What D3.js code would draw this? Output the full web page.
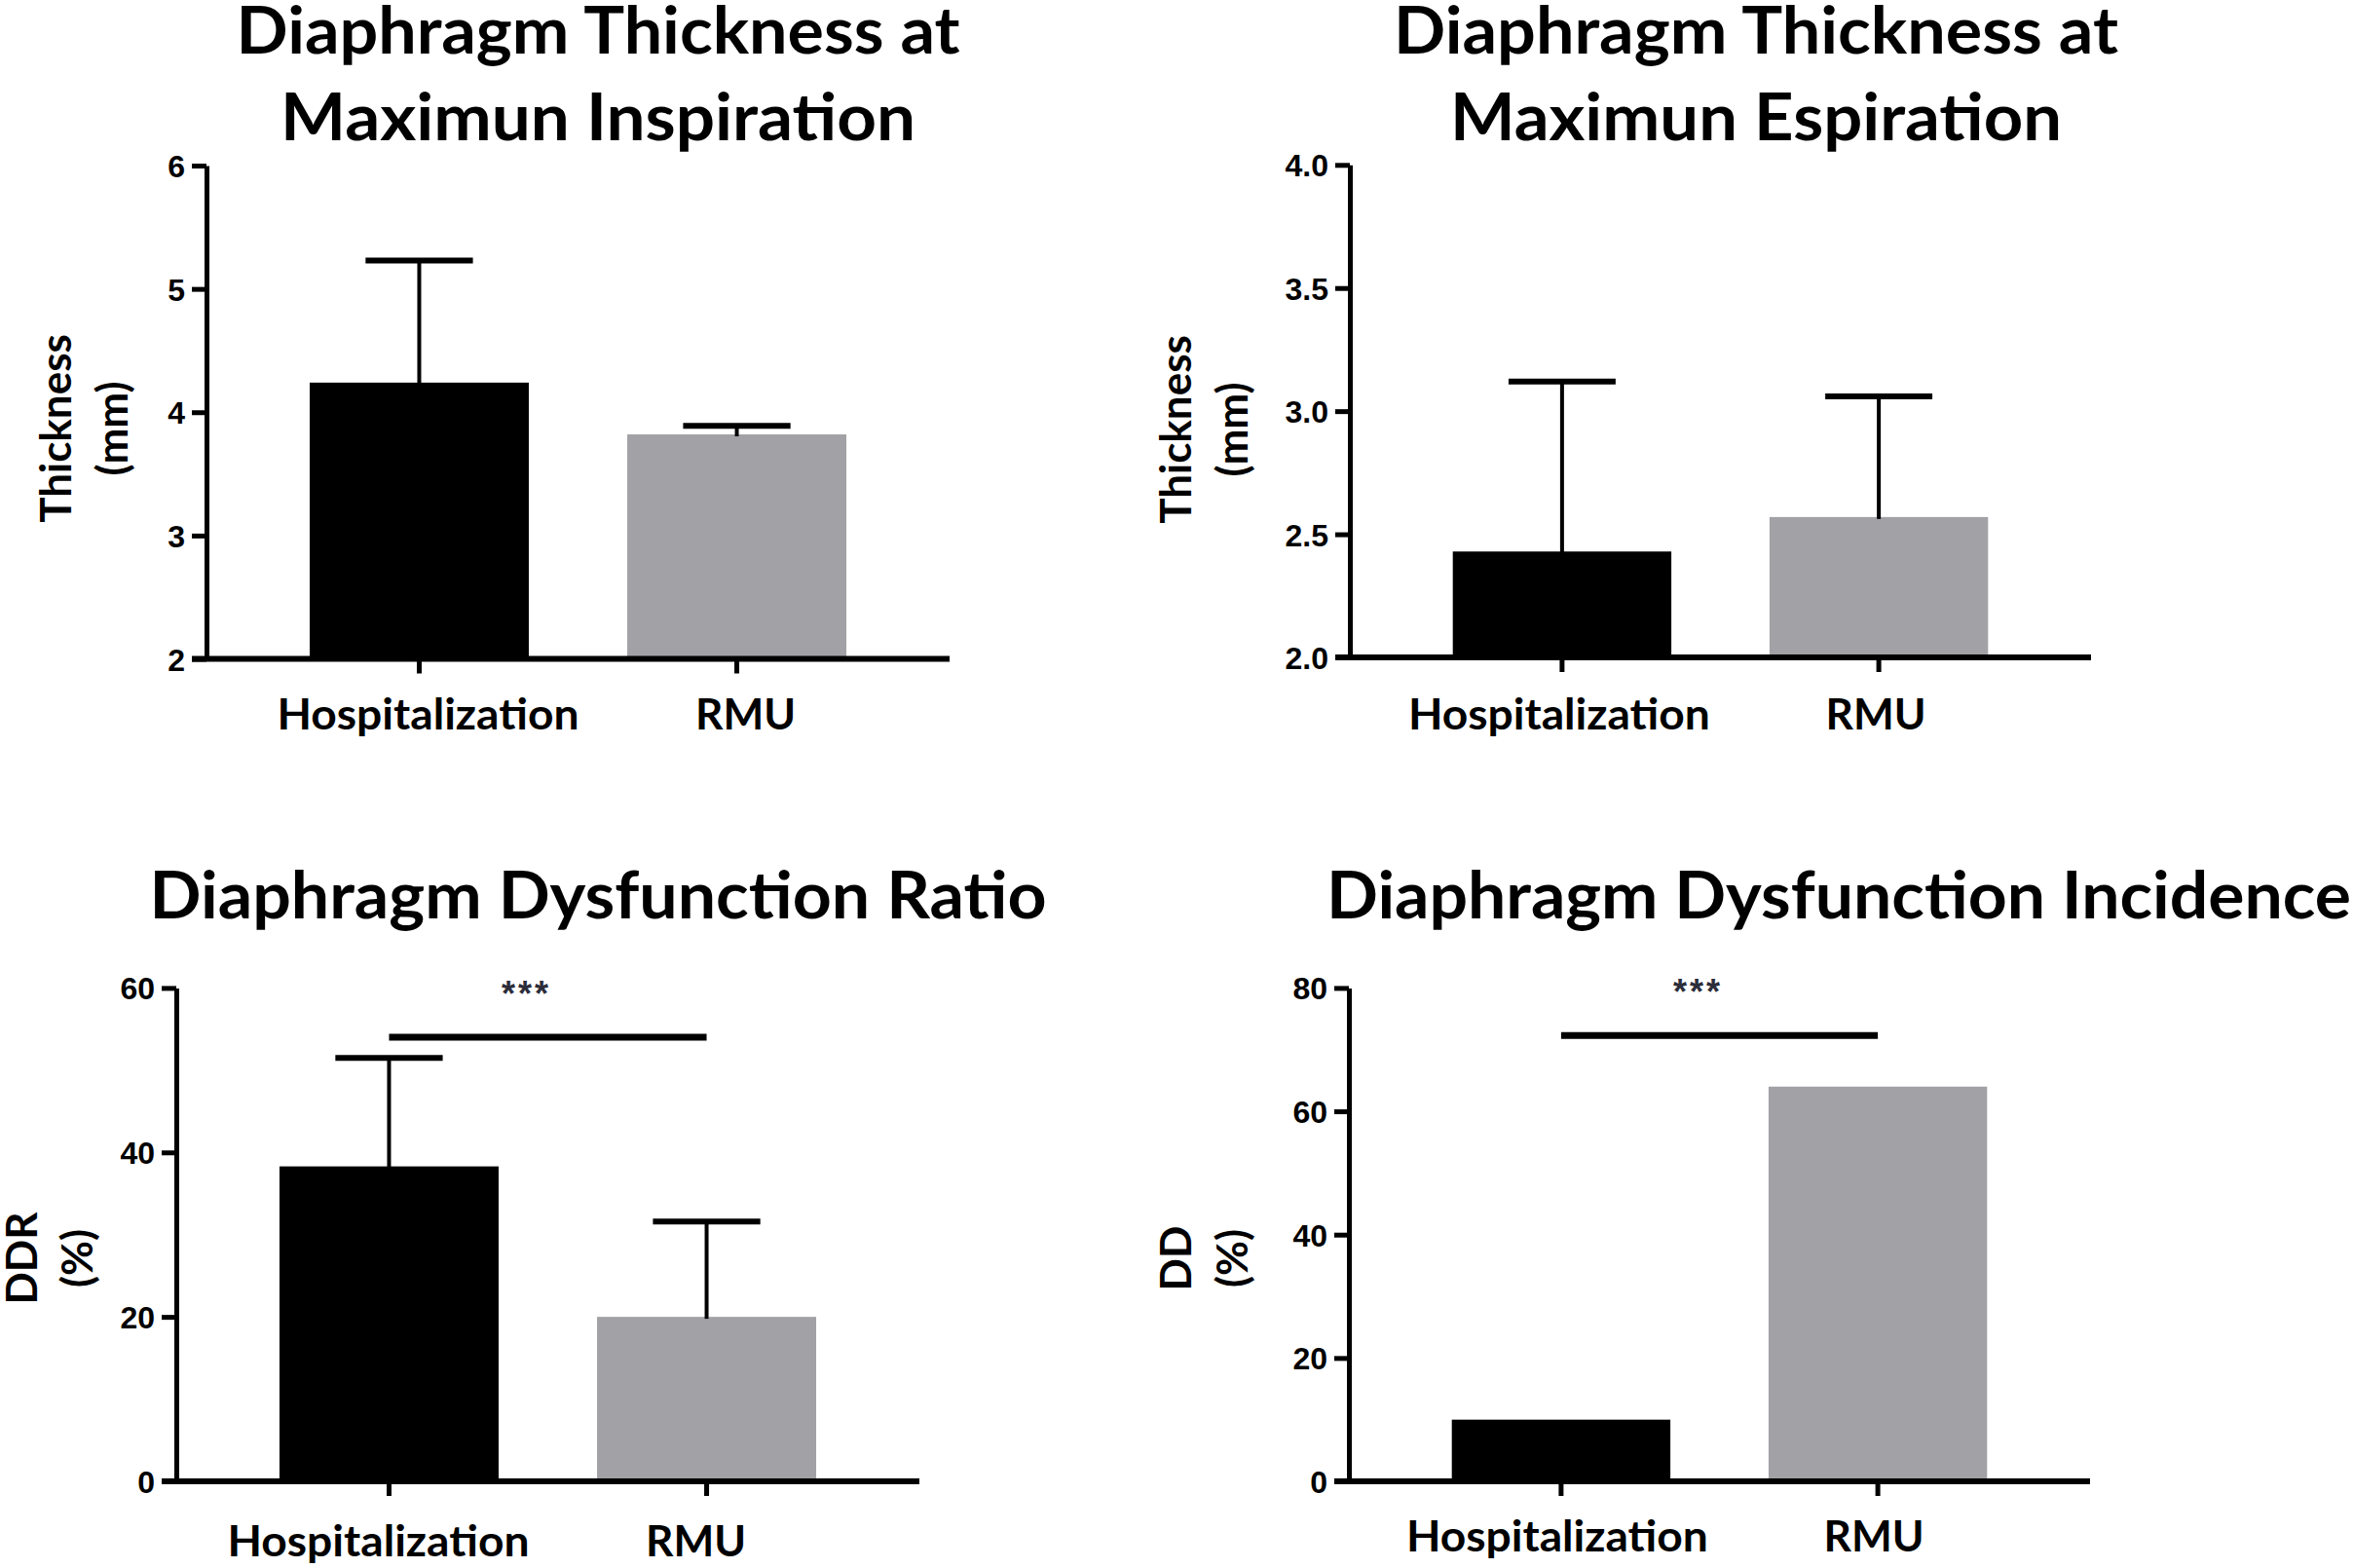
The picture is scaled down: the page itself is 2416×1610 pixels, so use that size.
<!DOCTYPE html>
<html>
<head>
<meta charset="utf-8">
<script src="https://cdn.jsdelivr.net/npm/d3@7"></script>
<style>
  body { margin: 0; background: #fff; }
  svg { display: block; }
  .title, .xlabel, .ylabel { font-family: Lato, "Open Sans", sans-serif; font-weight: 700; fill: #000; }
  .tick text { font-family: "Liberation Sans", Arial, sans-serif; font-weight: 700; }
</style>
</head>
<body>
<svg id="chart"></svg>
<script>
// groups and values
const groups = ["Hospitalization", "RMU"];
const barColors = ["#000000", "#a2a1a6"];

const inspMean = [4.24, 3.82];
const inspSD = [0.99, 0.07];
const inspTicks = [2, 3, 4, 5, 6];

const expMean = [2.43, 2.57];
const expSD = [0.69, 0.49];
const expTicks = [2.0, 2.5, 3.0, 3.5, 4.0];

const ddrMean = [38.3, 20.0];
const ddrSD = [13.2, 11.6];
const ddrTicks = [0, 20, 40, 60];
const ddrSig = 54;

const ddMean = [10, 64];
const ddTicks = [0, 20, 40, 60, 80];
const ddSig = 72.3;

const sigText = "***";

const W = 2416, H = 1610;
const svg = d3.select('#chart').attr('width', W).attr('height', H);

// layout of each panel
const xlabLen = [310, 103];
const panels = [
  {
    means: inspMean, sd: inspSD, ticks: inspTicks, domain: [2, 6], fmt: d3.format('d'),
    left: 212, top: 170, bottom: 676.5, width: 763,
    title: ["Diaphragm Thickness at", "Maximun Inspiration"], titleX: 614, titleY: [55, 144], titleLen: [743, 652],
    ylab: ["Thickness", "(mm)"], ylabX: [73, 131], ylabY: 440, labelShift: 9, xlabDy: 72
  },
  {
    means: expMean, sd: expSD, ticks: expTicks, domain: [2, 4], fmt: d3.format('.1f'),
    left: 1386, top: 169.3, bottom: 675, width: 761,
    title: ["Diaphragm Thickness at", "Maximun Espiration"], titleX: 1803, titleY: [55, 144], titleLen: [744, 628],
    ylab: ["Thickness", "(mm)"], ylabX: [1223, 1281], ylabY: 441, labelShift: -3, xlabDy: 74
  },
  {
    means: ddrMean, sd: ddrSD, ticks: ddrTicks, domain: [0, 60], fmt: d3.format('d'), sig: ddrSig,
    left: 181, top: 1014.4, bottom: 1521, width: 763,
    title: ["Diaphragm Dysfunction Ratio"], titleX: 614, titleY: [943], titleLen: [921],
    ylab: ["DDR", "(%)"], ylabX: [38, 95], ylabY: 1292, labelShift: -11, xlabDy: 77
  },
  {
    means: ddMean, sd: null, ticks: ddTicks, domain: [0, 80], fmt: d3.format('d'), sig: ddSig,
    left: 1385, top: 1014.4, bottom: 1521, width: 761,
    title: ["Diaphragm Dysfunction Incidence"], titleX: 1362, titleAnchor: 'start', titleY: [943], titleLen: [1052],
    ylab: ["DD", "(%)"], ylabX: [1223, 1281], ylabY: 1292, labelShift: -4, xlabDy: 72
  }
];

panels.forEach(drawPanel);

function drawPanel(cfg) {
  const g = svg.append('g');

  const x = d3.scaleBand()
    .domain(groups)
    .range([cfg.left, cfg.left + cfg.width])
    .paddingInner(0.31)
    .paddingOuter(0.325);

  const y = d3.scaleLinear()
    .domain(cfg.domain)
    .range([cfg.bottom, cfg.top]);

  const mid = name => x(name) + x.bandwidth() / 2;

  // Bars
  g.selectAll('rect.bar')
    .data(cfg.means)
    .join('rect')
      .attr('class', 'bar')
      .attr('x', (d, i) => x(groups[i]))
      .attr('y', d => y(d))
      .attr('width', x.bandwidth())
      .attr('height', d => y(cfg.domain[0]) - y(d))
      .attr('fill', (d, i) => barColors[i]);

  // Error bars (upper side only)
  if (cfg.sd) {
    const capW = x.bandwidth() * 0.49;
    const eb = g.selectAll('g.err')
      .data(cfg.means)
      .join('g')
        .attr('class', 'err');
    eb.append('line')
      .attr('x1', (d, i) => mid(groups[i]))
      .attr('x2', (d, i) => mid(groups[i]))
      .attr('y1', d => y(d) + 2)
      .attr('y2', (d, i) => y(d + cfg.sd[i]))
      .attr('stroke', '#000')
      .attr('stroke-width', 4);
    eb.append('line')
      .attr('x1', (d, i) => mid(groups[i]) - capW / 2)
      .attr('x2', (d, i) => mid(groups[i]) + capW / 2)
      .attr('y1', (d, i) => y(d + cfg.sd[i]))
      .attr('y2', (d, i) => y(d + cfg.sd[i]))
      .attr('stroke', '#000')
      .attr('stroke-width', 6);
  }

  // Y axis
  const yAxis = g.append('g')
    .attr('transform', `translate(${cfg.left},0)`)
    .call(d3.axisLeft(y)
      .tickValues(cfg.ticks)
      .tickFormat(cfg.fmt)
      .tickSize(15)
      .tickSizeOuter(0)
      .tickPadding(7));
  yAxis.select('.domain').attr('stroke-width', 5);
  yAxis.selectAll('.tick line').attr('stroke-width', 5);
  yAxis.selectAll('.tick text')
    .attr('font-size', 32)
    .attr('dy', '0.36em')
    .attr('fill', '#000');

  // X axis
  const xAxis = g.append('g')
    .attr('transform', `translate(0,${cfg.bottom})`)
    .call(d3.axisBottom(x).tickSize(15).tickSizeOuter(0).tickFormat(''));
  xAxis.select('.domain').remove();
  xAxis.selectAll('.tick line').attr('stroke-width', 5);
  xAxis.append('line')
    .attr('x1', cfg.left - 15)
    .attr('x2', cfg.left + cfg.width)
    .attr('stroke', '#000')
    .attr('stroke-width', 6);

  g.selectAll('text.xlabel')
    .data(groups)
    .join('text')
      .attr('class', 'xlabel')
      .attr('x', d => mid(d) + cfg.labelShift)
      .attr('y', cfg.bottom + cfg.xlabDy)
      .attr('text-anchor', 'middle')
      .attr('font-size', 44)
      .attr('textLength', (d, i) => xlabLen[i])
      .attr('lengthAdjust', 'spacingAndGlyphs')
      .text(d => d);

  // Y label, two rotated lines
  g.selectAll('text.ylabel')
    .data(cfg.ylab)
    .join('text')
      .attr('class', 'ylabel')
      .attr('text-anchor', 'middle')
      .attr('font-size', 44)
      .attr('transform', (d, i) => `translate(${cfg.ylabX[i]},${cfg.ylabY}) rotate(-90)`)
      .text(d => d);

  // Title
  g.selectAll('text.title')
    .data(cfg.title)
    .join('text')
      .attr('class', 'title')
      .attr('x', cfg.titleX)
      .attr('y', (d, i) => cfg.titleY[i])
      .attr('text-anchor', cfg.titleAnchor || 'middle')
      .attr('font-size', 67)
      .attr('textLength', (d, i) => cfg.titleLen[i])
      .attr('lengthAdjust', 'spacingAndGlyphs')
      .text(d => d);

  // Significance bar
  if (cfg.sig !== undefined) {
    const c0 = mid(groups[0]), c1 = mid(groups[1]);
    g.append('line')
      .attr('x1', c0)
      .attr('x2', c1)
      .attr('y1', y(cfg.sig))
      .attr('y2', y(cfg.sig))
      .attr('stroke', '#000')
      .attr('stroke-width', 7);
    g.append('text')
      .attr('x', (c0 + c1) / 2 - 22)
      .attr('y', y(cfg.sig) - 32)
      .attr('text-anchor', 'middle')
      .attr('font-family', '"Liberation Sans", Arial, sans-serif')
      .attr('font-weight', 700)
      .attr('font-size', 36)
      .attr('letter-spacing', 3)
      .attr('fill', '#2b2d3a')
      .text(sigText);
  }
}
</script>
</body>
</html>
